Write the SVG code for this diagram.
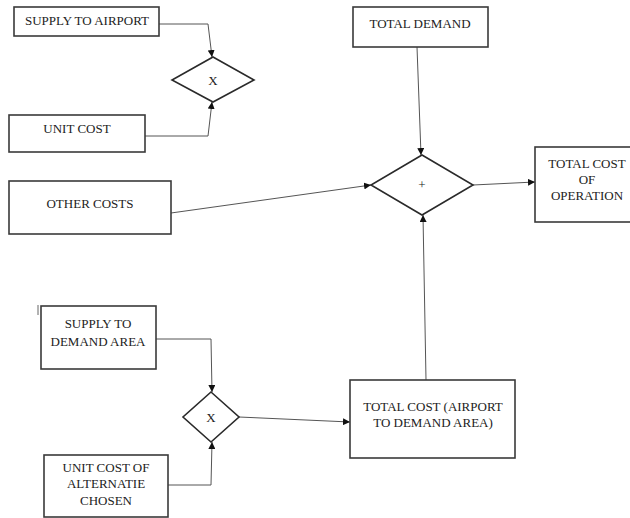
<svg xmlns="http://www.w3.org/2000/svg" width="630" height="518" viewBox="0 0 630 518">
  <style>
    .box { fill: #fff; stroke: #3a3a3a; stroke-width: 1.6; }
    .op { fill: #fff; stroke: #2a2a2a; stroke-width: 1.6; }
    .lbl { font-family: 'Liberation Serif', 'DejaVu Serif', 'Times New Roman', Times, serif; font-size: 13px; fill: #222; text-anchor: middle; }
    .sym { font-family: 'Liberation Serif', 'DejaVu Serif', 'Times New Roman', Times, serif; font-size: 13px; fill: #222; text-anchor: middle; }
    .wire { fill: none; stroke: #555; stroke-width: 1; }
  </style>
  <defs>
    <marker id="arrow" viewBox="0 0 10 10" refX="10" refY="5" markerWidth="7" markerHeight="7" markerUnits="userSpaceOnUse" orient="auto">
      <path d="M0,0 L10,5 L0,10 Z" fill="#111"/>
    </marker>
  </defs>

  <rect x="0" y="0" width="630" height="518" fill="#fff"/>

  <g id="connectors">
    <polyline class="wire" points="159,24 208,24 212,57" marker-end="url(#arrow)"/>
    <polyline class="wire" points="145,136 208,136 212,102" marker-end="url(#arrow)"/>
    <line class="wire" x1="417" y1="47" x2="421" y2="155" marker-end="url(#arrow)"/>
    <line class="wire" x1="171" y1="213" x2="371" y2="185" marker-end="url(#arrow)"/>
    <line class="wire" x1="473" y1="185" x2="535" y2="182" marker-end="url(#arrow)"/>
    <line class="wire" x1="426" y1="380" x2="423" y2="215" marker-end="url(#arrow)"/>
    <polyline class="wire" points="156,339 211,339 212,392" marker-end="url(#arrow)"/>
    <polyline class="wire" points="168,485 211,485 212,442" marker-end="url(#arrow)"/>
    <line class="wire" x1="239" y1="417" x2="350" y2="422" marker-end="url(#arrow)"/>
  </g>

  <g id="supply-to-airport">
    <rect class="box" x="14" y="7" width="145" height="29"/>
    <text class="lbl" x="87" y="25">SUPPLY TO AIRPORT</text>
  </g>

  <g id="multiply-airport">
    <polygon class="op" points="213,57 254,80 213,102 172,80"/>
    <text class="sym" x="213" y="85">X</text>
  </g>

  <g id="unit-cost">
    <rect class="box" x="9" y="115" width="136" height="37"/>
    <text class="lbl" x="77" y="133">UNIT COST</text>
  </g>

  <g id="total-demand">
    <rect class="box" x="353" y="7" width="135" height="40"/>
    <text class="lbl" x="420" y="28">TOTAL DEMAND</text>
  </g>

  <g id="sum">
    <polygon class="op" points="422,155 473,185 422,215 371,185"/>
    <text class="sym" x="422" y="189" font-size="10">+</text>
  </g>

  <g id="total-cost-of-operation">
    <rect class="box" x="535" y="147" width="97" height="75"/>
    <text class="lbl" x="587" y="168">TOTAL COST</text>
    <text class="lbl" x="587" y="184">OF</text>
    <text class="lbl" x="587" y="200">OPERATION</text>
  </g>

  <g id="other-costs">
    <rect class="box" x="9" y="181" width="162" height="53"/>
    <text class="lbl" x="90" y="208">OTHER COSTS</text>
  </g>

  <!-- short caret stroke left of the lower input box -->
  <line x1="38" y1="305" x2="38" y2="315" stroke="#666" stroke-width="1"/>

  <g id="supply-to-demand-area">
    <rect class="box" x="41" y="306" width="115" height="63"/>
    <text class="lbl" x="98" y="328">SUPPLY TO</text>
    <text class="lbl" x="98" y="346">DEMAND AREA</text>
  </g>

  <g id="multiply-demand">
    <polygon class="op" points="211,392 239,417 211,442 183,417"/>
    <text class="sym" x="211" y="422">X</text>
  </g>

  <g id="unit-cost-of-alternative">
    <rect class="box" x="44" y="455" width="124" height="62"/>
    <text class="lbl" x="106" y="472">UNIT COST OF</text>
    <text class="lbl" x="106" y="488">ALTERNATIE</text>
    <text class="lbl" x="106" y="505">CHOSEN</text>
  </g>

  <g id="total-cost-airport-to-demand">
    <rect class="box" x="350" y="380" width="165" height="78"/>
    <text class="lbl" x="433" y="411">TOTAL COST (AIRPORT</text>
    <text class="lbl" x="433" y="427">TO DEMAND AREA)</text>
  </g>
</svg>
